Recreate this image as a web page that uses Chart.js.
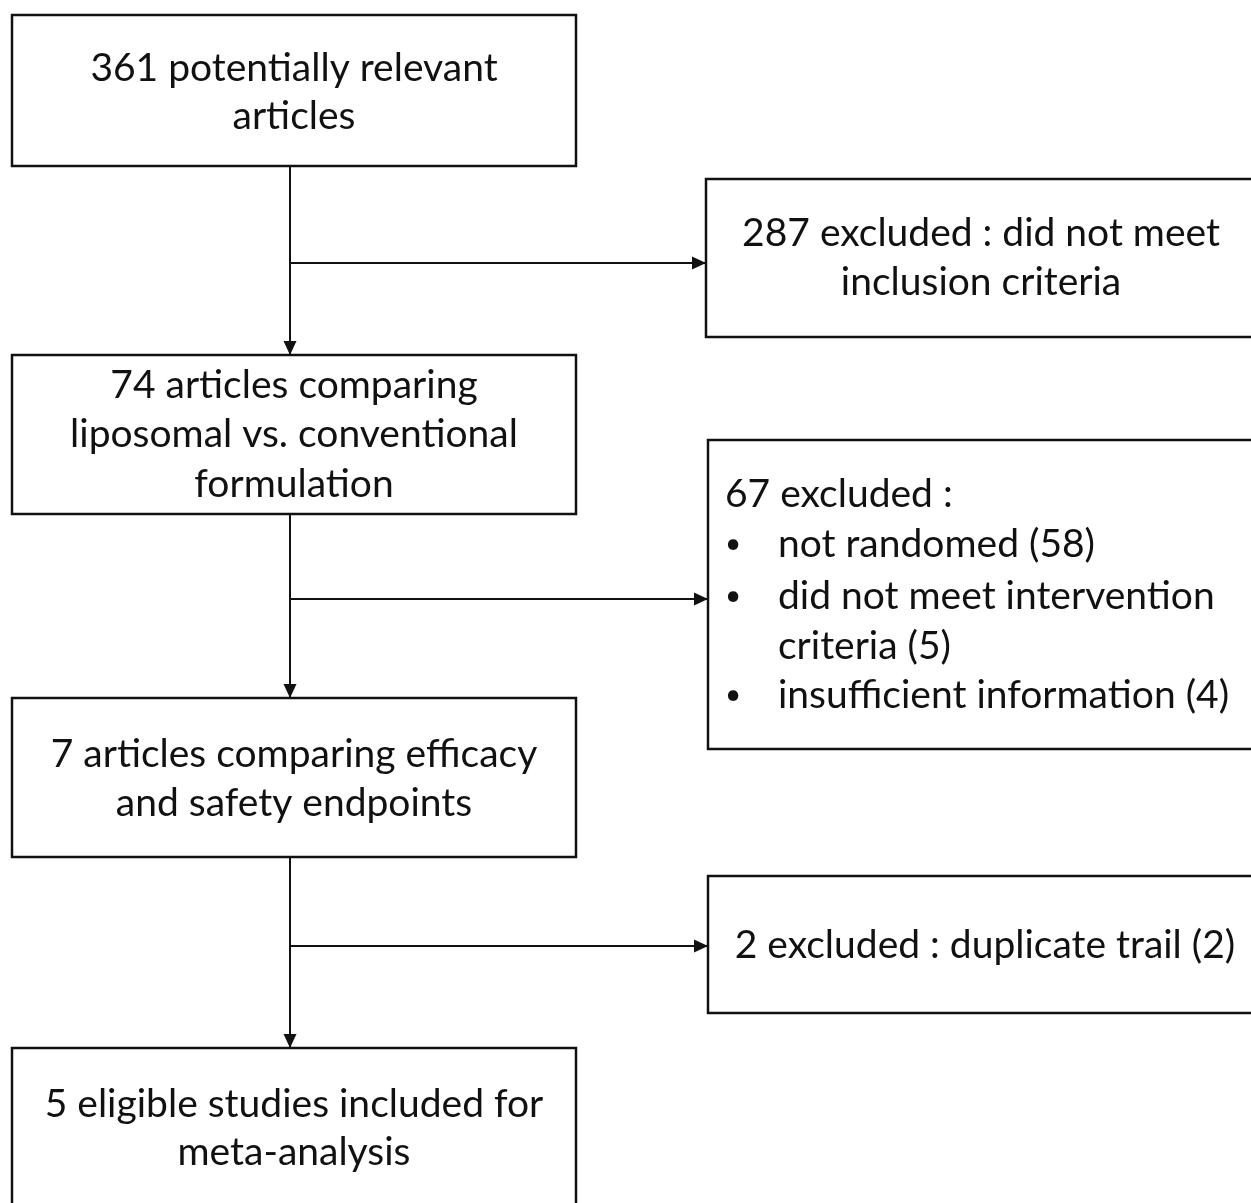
<!DOCTYPE html>
<html>
<head>
<meta charset="utf-8">
<script src="https://cdn.jsdelivr.net/npm/chart.js@4/dist/chart.umd.min.js"></script>
<style>
  html, body { margin: 0; background: #fff; }
  canvas { display: block; }
</style>
</head>
<body>
<canvas id="flow" width="1251" height="1203"></canvas>
<script>
// ===== DATA =====
let mainSteps = [
  ["361 potentially relevant", "articles"],
  ["74 articles comparing", "liposomal vs. conventional", "formulation"],
  ["7 articles comparing efficacy", "and safety endpoints"],
  ["5 eligible studies included for", "meta-analysis"]
];
let excludedSteps = [
  ["287 excluded : did not meet", "inclusion criteria"],
  ["67 excluded :"],
  ["2 excluded : duplicate trail (2)"]
];
let excludedReasons = [
  [],
  [["not randomed (58)"], ["did not meet intervention", "criteria (5)"], ["insufficient information (4)"]],
  []
];

// ===== LAYOUT (canvas units) =====
let W = 1251, H = 1203;
let mainBoxes = [[12, 15, 576, 166], [12, 355, 576, 514], [12, 698, 576, 857], [12, 1048, 576, 1206]];
let sideBoxes = [[706, 179, 1254, 337], [708, 440, 1254, 749], [708, 876, 1254, 1013]];
let mainLineY = [[68, 116], [385, 434, 484], [754, 803], [1104, 1152]];
let sideLineY = [[233, 282], [494], [945]];
let reasonLineY = [[544], [596, 646], [695]];
let spineX = 290;
let branchY = [263, 599, 946];
let font = "39px Lato";
let bulletFont = "28px Lato";
let ink = "#111";

function rectPoints(r) {
  return [{x:r[0],y:r[1]},{x:r[2],y:r[1]},{x:r[2],y:r[3]},{x:r[0],y:r[3]},{x:r[0],y:r[1]}];
}

let datasets = [];
mainBoxes.concat(sideBoxes).forEach(r => {
  datasets.push({ data: rectPoints(r), borderColor: ink, borderWidth: 2.5, pointRadius: 0, showLine: true, fill: false, tension: 0 });
});

// connectors: vertical down arrows + side branches
let arrows = [];
for (let i = 0; i < 3; i++) {
  arrows.push([{x: spineX, y: mainBoxes[i][3]}, {x: spineX, y: mainBoxes[i+1][1]}]);
  arrows.push([{x: spineX, y: branchY[i]}, {x: sideBoxes[i][0], y: branchY[i]}]);
}
arrows.forEach(a => {
  datasets.push({ data: a, borderColor: ink, borderWidth: 2, pointRadius: 0, showLine: true, fill: false, arrow: true });
});

// ===== PLUGIN: arrowheads + text =====
let flowPlugin = {
  id: "flow",
  afterDatasetsDraw(chart) {
    let ctx = chart.ctx;
    let xs = chart.scales.x, ys = chart.scales.y;
    ctx.save();
    ctx.fillStyle = ink;

    chart.data.datasets.forEach(ds => {
      if (!ds.arrow) return;
      let p0 = ds.data[0], p1 = ds.data[1];
      let x0 = xs.getPixelForValue(p0.x), y0 = ys.getPixelForValue(p0.y);
      let x1 = xs.getPixelForValue(p1.x), y1 = ys.getPixelForValue(p1.y);
      let ang = Math.atan2(y1 - y0, x1 - x0);
      let len = 14, half = 6.5;
      ctx.beginPath();
      ctx.moveTo(x1, y1);
      ctx.lineTo(x1 - len*Math.cos(ang) + half*Math.sin(ang), y1 - len*Math.sin(ang) - half*Math.cos(ang));
      ctx.lineTo(x1 - len*Math.cos(ang) - half*Math.sin(ang), y1 - len*Math.sin(ang) + half*Math.cos(ang));
      ctx.closePath();
      ctx.fill();
    });

    ctx.font = font;
    ctx.textBaseline = "middle";
    ctx.textAlign = "center";

    mainSteps.forEach((lines, i) => {
      let cx = xs.getPixelForValue((mainBoxes[i][0] + mainBoxes[i][2]) / 2);
      lines.forEach((t, j) => ctx.fillText(t, cx, ys.getPixelForValue(mainLineY[i][j])));
    });

    excludedSteps.forEach((lines, i) => {
      if (i === 1) {
        ctx.textAlign = "left";
        ctx.fillText(lines[0], xs.getPixelForValue(725), ys.getPixelForValue(sideLineY[i][0]));
        excludedReasons[i].forEach((item, k) => {
          ctx.font = bulletFont;
          ctx.textAlign = "center";
          ctx.fillText("\u2022", xs.getPixelForValue(733), ys.getPixelForValue(reasonLineY[k][0]));
          ctx.font = font;
          ctx.textAlign = "left";
          item.forEach((t, j) => ctx.fillText(t, xs.getPixelForValue(778), ys.getPixelForValue(reasonLineY[k][j])));
        });
        ctx.textAlign = "center";
        return;
      }
      let cx = i === 0 ? 981 : 985;
      lines.forEach((t, j) => ctx.fillText(t, xs.getPixelForValue(cx), ys.getPixelForValue(sideLineY[i][j])));
    });

    ctx.restore();
  }
};

new Chart(document.getElementById("flow"), {
  type: "scatter",
  data: { datasets: datasets },
  options: {
    responsive: false,
    animation: false,
    layout: { padding: 0 },
    plugins: { legend: { display: false }, tooltip: { enabled: false } },
    elements: { line: { borderCapStyle: "square" } },
    scales: {
      x: { type: "linear", min: 0, max: W, display: false },
      y: { type: "linear", min: 0, max: H, reverse: true, display: false }
    }
  },
  plugins: [flowPlugin]
});
</script>
</body>
</html>
